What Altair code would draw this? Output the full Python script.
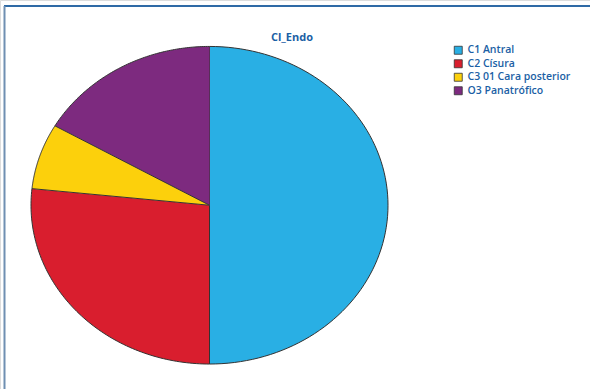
import altair as alt
import pandas as pd

categories = ["C1 Antral", "C2 Císura", "C3 01 Cara posterior", "O3 Panatrófico"]
counts = [15, 8, 2, 5]
colors = ["#29afe4", "#d91e2e", "#fcd00c", "#7d2a7f"]

STEPS = 90

df = pd.DataFrame({"category": categories, "count": counts})

x_scale = alt.Scale(domain=[-209.5 / 178.5, 380.5 / 178.5], nice=False, zero=False)
y_scale = alt.Scale(domain=[-184.0 / 159.0, 205.5 / 159.0], nice=False, zero=False)

pie = (
    alt.Chart(df)
    .transform_joinaggregate(total="sum(count)")
    .transform_window(cum="sum(count)", frame=[None, 0])
    .transform_calculate(start="datum.cum - datum.count")
    .transform_calculate(k=f"sequence(-1, {STEPS + 1})")
    .transform_flatten(["k"])
    .transform_calculate(
        a=f"2 * PI * (datum.start + datum.count * datum.k / {STEPS}) / datum.total"
    )
    .transform_calculate(
        px="datum.k < 0 ? 0 : sin(datum.a)",
        py="datum.k < 0 ? 0 : cos(datum.a)",
    )
    .mark_line(stroke="#333333", strokeWidth=1, strokeJoin="round")
    .encode(
        x=alt.X("px:Q", scale=x_scale, axis=None),
        y=alt.Y("py:Q", scale=y_scale, axis=None),
        order=alt.Order("k:Q"),
        detail="category:N",
        fill=alt.Fill(
            "category:N",
            scale=alt.Scale(domain=categories, range=colors),
            legend=alt.Legend(
                title=None,
                orient="none",
                legendX=453,
                legendY=45,
                symbolType="square",
                symbolSize=64,
                symbolStrokeColor="#333333",
                symbolStrokeWidth=0.8,
                symbolOpacity=1,
                labelFont="Open Sans",
                labelFontSize=10.5,
                labelFontWeight=600,
                labelColor="#1b5fa5",
                labelOffset=4,
                rowPadding=1.5,
            ),
        ),
    )
)

title = (
    alt.Chart(alt.Data(values=[{"t": "Cl_Endo"}]))
    .mark_text(
        font="Open Sans",
        fontSize=11,
        fontWeight="bold",
        color="#1b5fa5",
        align="center",
        baseline="alphabetic",
    )
    .encode(x=alt.value(292), y=alt.value(41), text="t:N")
)

frame_top = (
    alt.Chart(alt.Data(values=[{}]))
    .mark_rule(color="#2f6aa6", strokeWidth=2)
    .encode(x=alt.value(4), x2=alt.value(590), y=alt.value(6))
)
frame_left = (
    alt.Chart(alt.Data(values=[{}]))
    .mark_rule(color="#6f8fb2", strokeWidth=2)
    .encode(x=alt.value(4.5), y=alt.value(6), y2=alt.value(389))
)

chart = (
    alt.layer(pie, title, frame_top, frame_left)
    .properties(width=590, height=389, padding=0, autosize=alt.AutoSizeParams(type="none"))
    .configure_view(stroke=None)
    .configure(background="white")
)

chart.save("out.html", embed_options={"renderer": "svg", "actions": False})
